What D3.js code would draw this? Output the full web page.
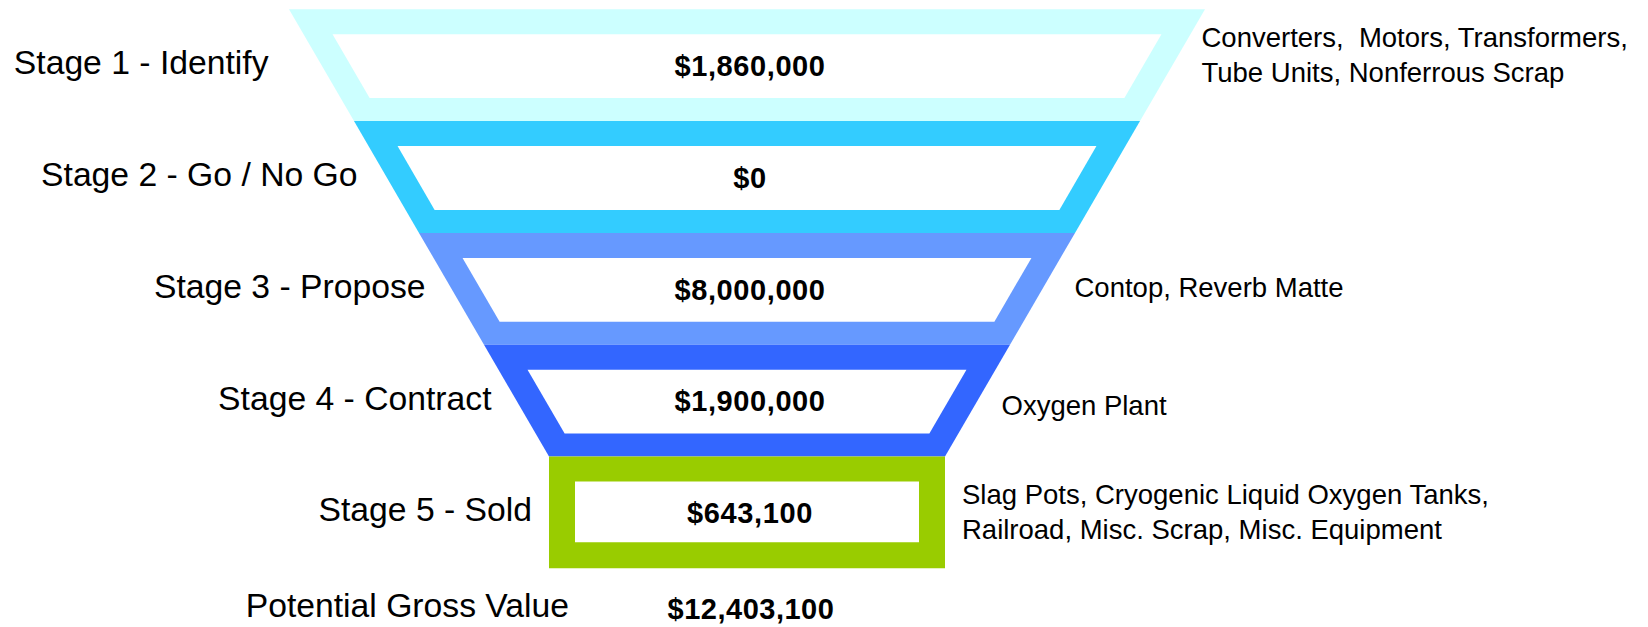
<!DOCTYPE html>
<html>
<head>
<meta charset="utf-8">
<script src="https://cdnjs.cloudflare.com/ajax/libs/d3/7.8.5/d3.min.js"></script>
<style>
  body { margin: 0; background: #fff; }
  text { font-family: "Liberation Sans", Arial, sans-serif; fill: #000; }
</style>
</head>
<body>
<div id="chart-area"></div>
<script>
/* Data */

const stages = ["Stage 1 - Identify", "Stage 2 - Go / No Go", "Stage 3 - Propose", "Stage 4 - Contract", "Stage 5 - Sold"]
const values = [1860000, 0, 8000000, 1900000, 643100]
const notes = [
    ["Converters,  Motors, Transformers,", "Tube Units, Nonferrous Scrap"],
    [],
    ["Contop, Reverb Matte"],
    ["Oxygen Plant"],
    ["Slag Pots, Cryogenic Liquid Oxygen Tanks,", "Railroad, Misc. Scrap, Misc. Equipment"]
]
const totalLabel = "Potential Gross Value"

/* Layout */

const WIDTH = 1648
const HEIGHT = 627
const CX = 747
const TOP = 9.3
const BOTTOM = 568.3
const colors = ["#CCFFFF", "#33CCFF", "#6699FF", "#3366FF", "#99CC00"]

// hand placed text boxes in the original, so a little nudge per stage
const labelGap = [53, 29, 26, 25, 17]
const noteGap = [29, 0, 32, 24, 17]
const noteDy = [-11, 0, -2, 4, -1]

const svg = d3.select("#chart-area").append("svg")
    .attr("width", WIDTH)
    .attr("height", HEIGHT)

const y = d3.scaleBand().domain(stages).range([TOP, BOTTOM])
const bw = y.bandwidth()
const last = stages[stages.length - 1]

// half width of the funnel, narrowing down to the top of the last stage
const halfW = d3.scaleLinear().domain([TOP, y(last)]).range([458, 198])
const color = d3.scaleOrdinal().domain(stages).range(colors)
const fmt = d3.format("$,")

const line = d3.line()

function shape(d, inset, padTop, padBot) {
    const y0 = y(d) + padTop
    const y1 = y(d) + bw - padBot
    let w0 = halfW(y0) - inset
    let w1 = halfW(y1) - inset
    if (d === last) {
        w0 = halfW(y(d)) - inset
        w1 = w0
    }
    return line([[CX - w0, y0], [CX + w0, y0], [CX + w1, y1], [CX - w1, y1]]) + "Z"
}

const rows = stages.map((s, i) => ({ stage: s, value: values[i], note: notes[i], i: i }))

const g = svg.append("g")

// outer bands
g.selectAll(".band")
    .data(rows)
    .enter().append("path")
    .attr("class", "band")
    .attr("d", d => shape(d.stage, 0, 0, 0))
    .attr("fill", d => color(d.stage))

// white windows
g.selectAll(".window")
    .data(rows)
    .enter().append("path")
    .attr("class", "window")
    .attr("d", d => d.stage === last ? shape(d.stage, 26, 25, 26) : shape(d.stage, 29, 25, 23))
    .attr("fill", "#fff")

// values in the windows
g.selectAll(".value")
    .data(rows)
    .enter().append("text")
    .attr("class", "value")
    .attr("x", CX + 3)
    .attr("y", d => y(d.stage) + 25 + (bw - 48) / 2 + 9.8)
    .attr("text-anchor", "middle")
    .style("font-size", "29px")
    .style("font-weight", "bold")
    .style("letter-spacing", "0.6px")
    .text(d => fmt(d.value))

// stage names on the left
const mid = d => y(d.stage) + bw / 2
const leftEdge = d => d.stage === last ? CX - halfW(y(d.stage)) : CX - halfW(mid(d))
const rightEdge = d => d.stage === last ? CX + halfW(y(d.stage)) : CX + halfW(mid(d))

g.selectAll(".label")
    .data(rows)
    .enter().append("text")
    .attr("class", "label")
    .attr("x", d => leftEdge(d) - labelGap[d.i])
    .attr("y", d => mid(d) - 3 + 12)
    .attr("text-anchor", "end")
    .style("font-size", "33.7px")
    .text(d => d.stage)

// notes on the right
const LINE_H = 35
const noteG = g.selectAll(".note")
    .data(rows.filter(d => d.note.length))
    .enter().append("text")
    .attr("class", "note")
    .attr("x", d => rightEdge(d) + noteGap[d.i])
    .attr("y", d => mid(d) + noteDy[d.i] - (d.note.length - 1) * LINE_H / 2 + 10)
    .style("font-size", "27.5px")
    .style("white-space", "pre")

noteG.selectAll("tspan")
    .data(d => d.note.map((t, k) => ({ t: t, k: k, x: rightEdge(d) + noteGap[d.i] })))
    .enter().append("tspan")
    .attr("x", t => t.x)
    .attr("dy", t => t.k === 0 ? 0 : LINE_H)
    .text(t => t.t)

// total row
const total = d3.sum(values)
g.append("text")
    .attr("x", CX - halfW(y(last)) + 20)
    .attr("y", BOTTOM + 48.5)
    .attr("text-anchor", "end")
    .style("font-size", "33.7px")
    .text(totalLabel)

g.append("text")
    .attr("x", CX + 4)
    .attr("y", BOTTOM + 51)
    .attr("text-anchor", "middle")
    .style("font-size", "29px")
    .style("font-weight", "bold")
    .style("letter-spacing", "0.5px")
    .text(fmt(total))
</script>
</body>
</html>
